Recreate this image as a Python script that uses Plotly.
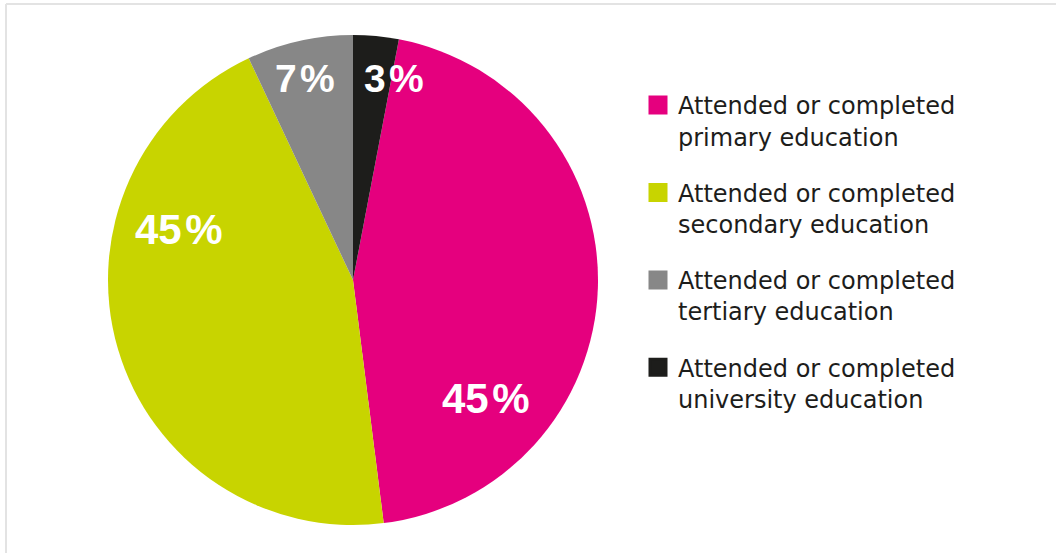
import plotly.graph_objects as go

# Share of respondents by highest level of education
categories = [
    "Attended or completed<br>primary education",
    "Attended or completed<br>secondary education",
    "Attended or completed<br>tertiary education",
    "Attended or completed<br>university education",
]
shares = [45, 45, 7, 3]
colors = ["#e5007e", "#c8d400", "#878787", "#1d1d1b"]

# where each percentage label sits (paper coords) and its font size
label_pos = [(486 / 1056, 1 - 398 / 553), (179 / 1056, 1 - 230 / 553),
             (305 / 1056, 1 - 79 / 553), (394 / 1056, 1 - 79 / 553)]
label_size = [42, 42, 39, 39]

W, H = 1056, 553

fig = go.Figure()

fig.add_trace(go.Pie(
    values=shares,
    labels=categories,
    marker=dict(colors=colors, line=dict(width=0)),
    sort=False,
    direction="clockwise",
    rotation=360 * shares[-1] / sum(shares),
    textinfo="none",
    hoverinfo="label+percent",
    showlegend=False,
    domain=dict(x=[108 / W, 598 / W], y=[1 - 525 / H, 1 - 35 / H]),
))

# legend entries with square swatches
for name, col in zip(categories, colors):
    fig.add_trace(go.Scatter(
        x=[None], y=[None], mode="markers", name=name,
        legendgroup=name,
        marker=dict(symbol="square", size=16, color=col,
                    line=dict(width=3, color=col)),
    ))

for v, (x, y), s in zip(shares, label_pos, label_size):
    fig.add_annotation(
        x=x, y=y, xref="paper", yref="paper",
        text=f"{v}\u200a%", showarrow=False,
        xanchor="center", yanchor="middle",
        font=dict(family="Liberation Sans, Arial, sans-serif", size=s,
                  color="white", weight="bold"),
    )

# thin frame along the top and left edges
frame = dict(color="#e3e3e3", width=2)
fig.add_shape(type="line", xref="paper", yref="paper",
              x0=6 / W, x1=1, y0=1 - 4 / H, y1=1 - 4 / H, line=frame)
fig.add_shape(type="line", xref="paper", yref="paper",
              x0=6 / W, x1=6 / W, y0=0, y1=1 - 4 / H, line=frame)

fig.update_layout(
    width=W, height=H,
    margin=dict(l=0, r=0, t=0, b=0),
    paper_bgcolor="white",
    plot_bgcolor="white",
    xaxis=dict(visible=False),
    yaxis=dict(visible=False),
    legend=dict(
        x=638 / W, y=1 - 83 / H, xanchor="left", yanchor="top",
        font=dict(family="DejaVu Sans", size=24, color="#1d1d1b"),
        valign="top",
        tracegroupgap=22,
        bgcolor="rgba(0,0,0,0)",
    ),
)

fig.write_html("out.html")
